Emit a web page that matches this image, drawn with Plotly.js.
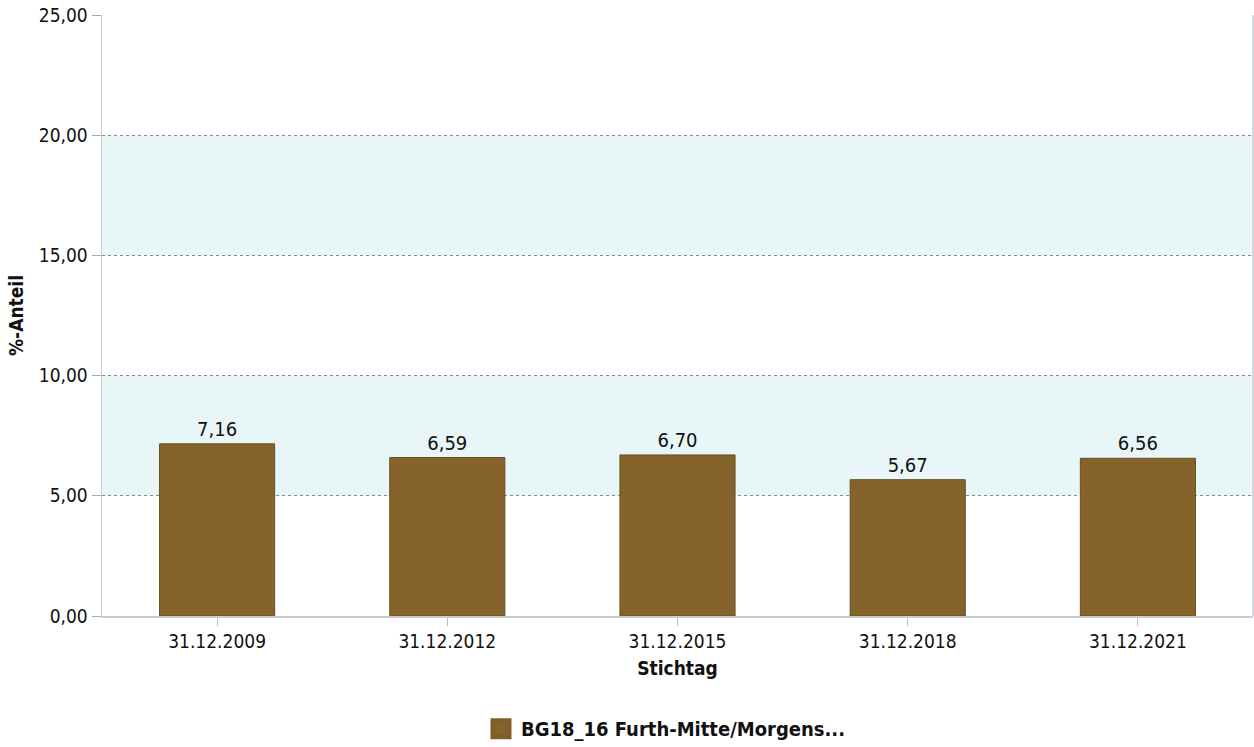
<!DOCTYPE html>
<html>
<head>
<meta charset="utf-8">
<script src="https://cdn.plot.ly/plotly-3.0.1.min.js"></script>
<style>html,body{margin:0;padding:0;background:#fff;}#chart{width:1254px;height:747px;}</style>
</head>
<body>
<div id="chart"></div>
<script>
const categories = ["31.12.2009", "31.12.2012", "31.12.2015", "31.12.2018", "31.12.2021"];
const values = [7.16, 6.59, 6.70, 5.67, 6.56];
const seriesName = "BG18_16 Furth-Mitte/Morgens...";
const bands = [[5, 10], [15, 20]];
const yTicks = [0, 5, 10, 15, 20, 25];
const yTickLabels = ["0,00", "5,00", "10,00", "15,00", "20,00", "25,00"];

const FONT = "DejaVu Sans Condensed, DejaVu Sans, sans-serif";
const barColor = "#85632a";

const traces = [
  {
    type: "bar",
    x: categories,
    y: values,
    name: seriesName,
    showlegend: false,
    marker: {color: barColor, line: {color: "#62501f", width: 1}},
    texttemplate: "%{y:.2f}",
    textposition: "outside",
    cliponaxis: false,
    textfont: {family: FONT, size: 20, color: "#111"},
    hoverinfo: "x+y"
  },
  {
    type: "scatter",
    mode: "markers",
    x: [null],
    y: [null],
    name: seriesName,
    marker: {symbol: "square", size: 16, color: barColor, line: {color: "#7e5f28", width: 5}},
    showlegend: true,
    hoverinfo: "skip"
  }
];

const shapes = bands.map(b => ({
  type: "rect", xref: "paper", yref: "y", x0: 0, x1: 1, y0: b[0], y1: b[1],
  fillcolor: "#e8f6f7", line: {width: 0}, layer: "below"
}));
shapes.push({type: "line", xref: "paper", yref: "paper", x0: 1, x1: 1, y0: 0, y1: 1,
  line: {color: "#c9cdd2", width: 1.5}});

const layout = {
  width: 1254, height: 747,
  margin: {l: 102, r: 1, t: 15, b: 131, autoexpand: false},
  paper_bgcolor: "#fff", plot_bgcolor: "rgba(0,0,0,0)",
  separators: ",.",
  font: {family: FONT, size: 19, color: "#111"},
  bargap: 0.5,
  showlegend: true,
  legend: {orientation: "h", x: 0.49, xanchor: "center", y: -0.155, yanchor: "top",
    font: {family: FONT, size: 20, color: "#111", weight: "bold"}, itemwidth: 30},
  xaxis: {
    type: "category",
    showline: true, linecolor: "#c9cdd2", linewidth: 1.5,
    ticks: "outside", ticklen: 8, tickcolor: "#bbbbbb", tickwidth: 1,
    showgrid: false, zeroline: false,
    tickfont: {family: FONT, size: 19, color: "#111"},
    title: {text: "Stichtag", font: {family: FONT, size: 19, color: "#111", weight: "bold"}, standoff: 10}
  },
  yaxis: {
    range: [0, 25],
    tickvals: yTicks, ticktext: yTickLabels,
    showline: true, linecolor: "#c9cdd2", linewidth: 1.5,
    ticks: "outside", ticklen: 9, tickcolor: "#aaaaaa", tickwidth: 1,
    showgrid: true, gridcolor: "#8a8a8a", griddash: "dot", gridwidth: 1,
    zeroline: false,
    tickfont: {family: FONT, size: 19, color: "#111"},
    title: {text: "%-Anteil", font: {family: FONT, size: 19, color: "#111", weight: "bold"}, standoff: 10}
  },
  shapes: shapes
};

Plotly.newPlot("chart", traces, layout, {displayModeBar: false, staticPlot: true});
</script>
</body>
</html>
